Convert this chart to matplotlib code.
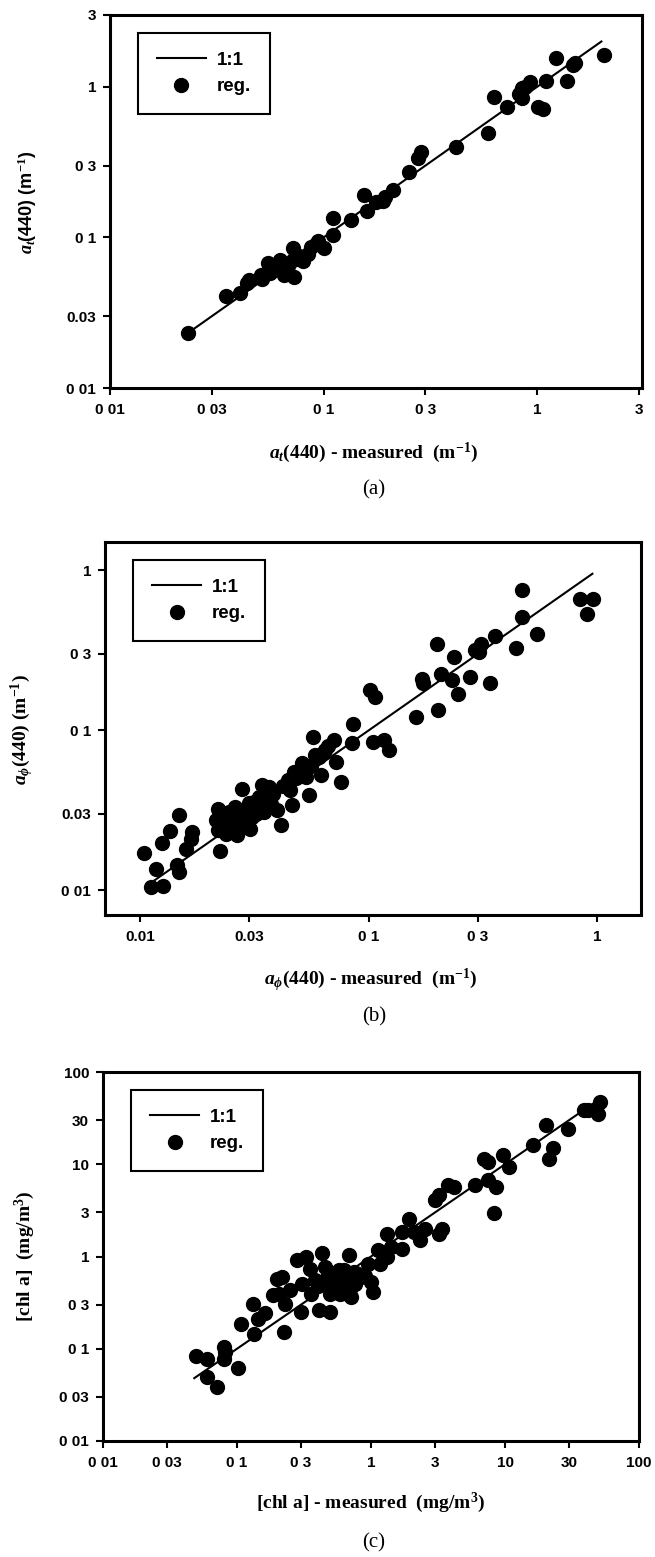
import matplotlib
matplotlib.use("Agg")
import matplotlib.pyplot as plt

plt.rcParams['mathtext.fontset'] = 'custom'
plt.rcParams['mathtext.rm'] = 'Liberation Serif:bold'
plt.rcParams['mathtext.it'] = 'Liberation Serif:italic:bold'
plt.rcParams['mathtext.bf'] = 'Liberation Serif:bold'

# ---------------- data: panel (a) a_t(440) ----------------
a_meas = [0.0233, 0.0349, 0.0408, 0.0437, 0.045, 0.0512, 0.0515, 0.0547, 0.056, 0.058,
          0.062, 0.0626, 0.0655, 0.066, 0.068, 0.0717, 0.072, 0.073, 0.077, 0.080,
          0.085, 0.0877, 0.092, 0.094, 0.100, 0.111, 0.111, 0.135, 0.155, 0.160,
          0.176, 0.190, 0.195, 0.211, 0.250, 0.276, 0.286, 0.418, 0.589, 0.627,
          0.726, 0.82, 0.851, 0.851, 0.88, 0.93, 1.01, 1.07, 1.10, 1.23,
          1.38, 1.47, 1.50, 2.05]
a_reg = [0.0232, 0.041, 0.0428, 0.0497, 0.052, 0.0565, 0.053, 0.0676, 0.058, 0.062,
         0.064, 0.071, 0.0565, 0.060, 0.065, 0.085, 0.071, 0.055, 0.075, 0.070,
         0.078, 0.087, 0.090, 0.094, 0.085, 0.134, 0.104, 0.131, 0.192, 0.149,
         0.173, 0.175, 0.185, 0.207, 0.274, 0.336, 0.367, 0.400, 0.497, 0.853,
         0.740, 0.900, 0.980, 0.840, 1.00, 1.08, 0.740, 0.710, 1.09, 1.55,
         1.09, 1.40, 1.45, 1.63]
a_line = [0.0233, 2.0]

# ---------------- data: panel (b) a_phi(440) ----------------
b_meas = [0.0104, 0.0111, 0.0126, 0.0117, 0.0124, 0.0135, 0.0147, 0.0145, 0.0148, 0.0159,
          0.0168, 0.0167, 0.0224, 0.0219, 0.0215, 0.0219, 0.0238, 0.0243, 0.0259, 0.0265,
          0.0277, 0.0282, 0.0301, 0.0307, 0.0314, 0.0342, 0.0364, 0.0349, 0.0372, 0.0413,
          0.0396, 0.0441, 0.0459, 0.047, 0.0507, 0.0533, 0.0545, 0.0568, 0.0605, 0.0618,
          0.0645, 0.0702, 0.0717, 0.0755, 0.0849, 0.0842, 0.1007, 0.1064, 0.104, 0.1167,
          0.1218, 0.160, 0.171, 0.173, 0.198, 0.200, 0.207, 0.230, 0.235, 0.245,
          0.278, 0.290, 0.309, 0.303, 0.337, 0.356, 0.440, 0.467, 0.469, 0.543,
          0.838, 0.903, 0.959,
          0.023, 0.025, 0.027, 0.029, 0.032, 0.024, 0.026, 0.030, 0.033, 0.036,
          0.038, 0.042, 0.045, 0.048, 0.052, 0.056, 0.058, 0.063, 0.066]
b_reg = [0.0170, 0.0105, 0.0107, 0.0135, 0.0198, 0.0235, 0.0294, 0.0143, 0.0130, 0.0180,
         0.0232, 0.0210, 0.0176, 0.0324, 0.0274, 0.0237, 0.0226, 0.0309, 0.0267, 0.0221,
         0.0432, 0.0316, 0.0243, 0.0287, 0.0356, 0.0453, 0.0442, 0.0309, 0.0348, 0.0255,
         0.0316, 0.0487, 0.0340, 0.0550, 0.0620, 0.0510, 0.0393, 0.0908, 0.0680, 0.0523,
         0.0750, 0.0866, 0.0634, 0.0475, 0.110, 0.0826, 0.178, 0.1616, 0.0845, 0.0866,
         0.0750, 0.121, 0.210, 0.196, 0.348, 0.133, 0.226, 0.205, 0.287, 0.169,
         0.215, 0.319, 0.348, 0.309, 0.196, 0.387, 0.324, 0.750, 0.511, 0.398,
         0.656, 0.536, 0.662,
         0.028, 0.030, 0.024, 0.027, 0.030, 0.025, 0.033, 0.035, 0.038, 0.033,
         0.040, 0.045, 0.042, 0.050, 0.057, 0.060, 0.070, 0.072, 0.080]
b_line = [0.0114, 0.95]

# ---------------- data: panel (c) chl a ----------------
c_meas = [0.0493, 0.060, 0.060, 0.0708, 0.080, 0.080, 0.081, 0.101, 0.107, 0.131,
          0.133, 0.143, 0.162, 0.185, 0.199, 0.218, 0.223, 0.230, 0.205, 0.247,
          0.281, 0.302, 0.330, 0.349, 0.303, 0.354, 0.410, 0.434, 0.457, 0.491,
          0.491, 0.509, 0.548, 0.589, 0.634, 0.691, 0.706, 0.759, 0.847, 0.944,
          0.993, 1.04, 1.17, 1.13, 1.31, 1.31, 1.41, 1.69, 1.69, 1.91,
          2.09, 2.34, 2.51, 3.01, 3.24, 3.24, 3.36, 3.74, 4.17, 6.0,
          6.93, 7.45, 7.45, 8.32, 8.61, 9.61, 10.7, 16.3, 20.3, 21.3,
          23.0, 29.6, 39.0, 41.8, 49.1, 50.9,
          0.45, 0.52, 0.55, 0.60, 0.65, 0.68, 0.72, 0.75, 0.48, 0.58,
          0.62, 0.40, 0.38, 0.70, 0.80, 0.90]
c_reg = [0.0827, 0.078, 0.0494, 0.0385, 0.1045, 0.078, 0.092, 0.0624, 0.184, 0.303,
         0.146, 0.212, 0.244, 0.379, 0.575, 0.600, 0.152, 0.308, 0.395, 0.430,
         0.908, 0.250, 0.988, 0.738, 0.508, 0.395, 0.261, 1.09, 0.770, 0.250,
         0.395, 0.508, 0.600, 0.395, 0.708, 1.03, 0.364, 0.508, 0.600, 0.836,
         0.529, 0.412, 0.836, 1.17, 0.988, 1.77, 1.27, 1.22, 1.84, 2.57,
         1.84, 1.50, 2.00, 4.06, 4.60, 1.77, 2.00, 5.91, 5.66, 5.91,
         11.5, 10.6, 6.70, 2.96, 5.66, 12.5, 9.33, 16.0, 26.4, 11.5,
         15.1, 24.3, 38.4, 38.4, 35.3, 47.3,
         0.55, 0.45, 0.65, 0.55, 0.48, 0.60, 0.52, 0.68, 0.62, 0.72,
         0.40, 0.48, 0.55, 0.44, 0.65, 0.62]
c_line = [0.048, 48.0]

# tick values and labels (as printed on the scanned figure)
a_xticks = [0.01, 0.03, 0.1, 0.3, 1, 3]
a_xlabels = ['0 01', '0 03', '0 1', '0 3', '1', '3']
a_yticks = [0.01, 0.03, 0.1, 0.3, 1, 3]
a_ylabels = ['0 01', '0.03', '0 1', '0 3', '1', '3']
b_xticks = [0.01, 0.03, 0.1, 0.3, 1]
b_xlabels = ['0.01', '0.03', '0 1', '0 3', '1']
b_yticks = [0.01, 0.03, 0.1, 0.3, 1]
b_ylabels = ['0 01', '0.03', '0 1', '0 3', '1']
c_ticks = [0.01, 0.03, 0.1, 0.3, 1, 3, 10, 30, 100]
c_xlabels = ['0 01', '0 03', '0 1', '0 3', '1', '3', '10', '30', '100']
c_ylabels = ['0 01', '0 03', '0 1', '0 3', '1', '3', '10', '30', '100']

W, H = 655, 1557
fig = plt.figure(figsize=(W / 100, H / 100), dpi=100)

def px_axes(l, t, r, b):
    return fig.add_axes([l / W, 1 - b / H, (r - l) / W, (b - t) / H])

tickfont = dict(family='Liberation Sans', weight='bold', size=11)

def setup(ax, meas, reg, line, xlim, ylim, xt, xl, yt, yl):
    ax.set_xscale('log')
    ax.set_yscale('log')
    ax.plot(line, line, color='black', lw=1.5, label='1:1', zorder=2)
    ax.plot(meas, reg, 'o', color='black', ms=10, mec='black', label='reg.', zorder=3)
    ax.set_xlim(*xlim)
    ax.set_ylim(*ylim)
    ax.set_xticks(xt)
    ax.set_xticklabels(xl, fontdict=tickfont)
    ax.set_yticks(yt)
    ax.set_yticklabels(yl, fontdict=tickfont)
    ax.minorticks_off()
    ax.tick_params(axis='both', which='major', direction='out', length=5, width=1.5,
                   color='black', labelcolor='black')
    ax.tick_params(axis='x', pad=6)
    ax.tick_params(axis='y', pad=5)
    for s in ax.spines.values():
        s.set_linewidth(2.2)
        s.set_color('black')
    leg = ax.legend(loc='upper left', bbox_to_anchor=(0.053, 0.952), borderaxespad=0,
                    prop=dict(family='Liberation Sans', weight='bold', size=13.5),
                    frameon=True, fancybox=False, framealpha=1, edgecolor='black',
                    borderpad=1.0, labelspacing=0.5, handlelength=2.6,
                    handletextpad=0.6)
    leg.get_frame().set_linewidth(1.5)
    return ax

axA = px_axes(110, 15, 642, 388)
setup(axA, a_meas, a_reg, a_line, (0.01, 3.1), (0.01, 3.0),
      a_xticks, a_xlabels, a_yticks, a_ylabels)

axB = px_axes(105, 542, 641, 915)
setup(axB, b_meas, b_reg, b_line, (0.007, 1.55), (0.007, 1.5),
      b_xticks, b_xlabels, b_yticks, b_ylabels)

axC = px_axes(103, 1072, 639, 1441)
setup(axC, c_meas, c_reg, c_line, (0.01, 100), (0.01, 100),
      c_ticks, c_xlabels, c_ticks, c_ylabels)

serif_lbl = dict(family='Liberation Serif', weight='bold', size=14)
serif_cap = dict(family='Liberation Serif', size=15)

def ftxt(x, y, s, rot=0, **kw):
    fig.text(x / W, 1 - y / H, s, ha='center', va='center', rotation=rot, **kw)

# panel (a)
ftxt(374, 453, r'$a_t$(440) - measured  (m$^{\mathrm{-1}}$)', **serif_lbl)
ftxt(374, 490, '(a)', **serif_cap)
ftxt(27, 202, r'$a_t$(440) (m$^{\mathrm{-1}}$)', rot=90,
     family='Liberation Sans', weight='bold', size=13)

# panel (b)
ftxt(371, 980, r'$a_\phi$(440) - measured  (m$^{\mathrm{-1}}$)', **serif_lbl)
ftxt(374, 1017, '(b)', **serif_cap)
ftxt(22, 730, r'$a_\phi$(440) (m$^{\mathrm{-1}}$)', rot=90, **serif_lbl)

# panel (c)
ftxt(371, 1503, r'[chl a] - measured  (mg/m$^3$)', **serif_lbl)
ftxt(374, 1543, '(c)', **serif_cap)
ftxt(25, 1256, r'[chl a]  (mg/m$^3$)', rot=90, **serif_lbl)

fig.savefig('out.png', dpi=100)
